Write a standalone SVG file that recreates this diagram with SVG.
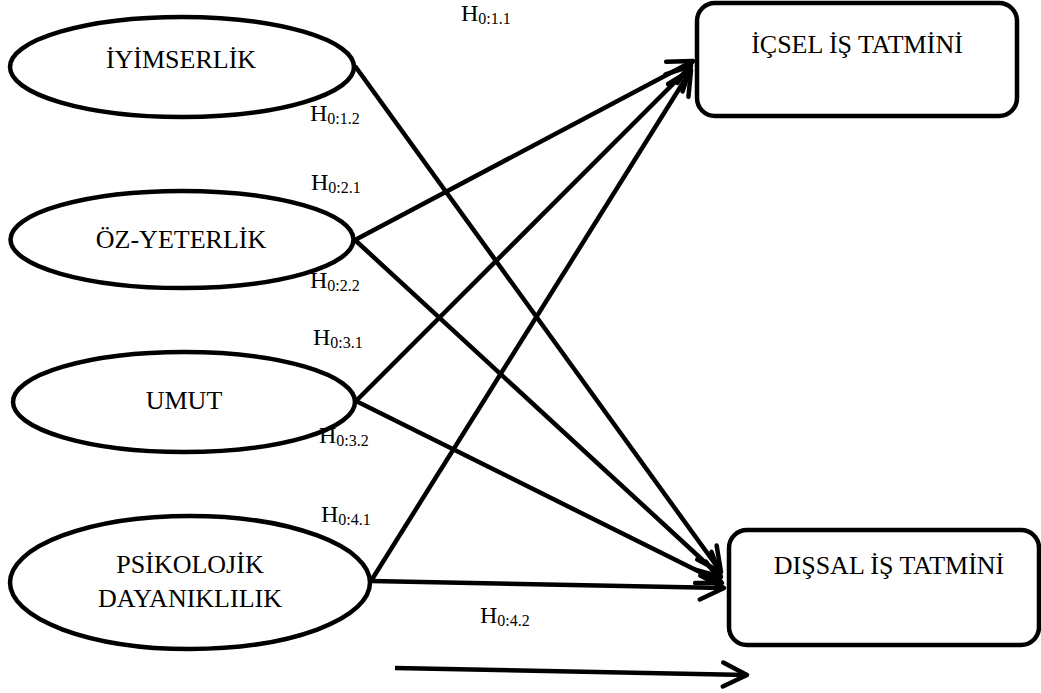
<svg xmlns="http://www.w3.org/2000/svg" width="1041" height="693" viewBox="0 0 1041 693">
<style>
.node{fill:#fff;stroke:#000;stroke-width:4.5}
.lbl{font-family:"Liberation Serif","Times New Roman",serif;font-size:26px;fill:#000;text-anchor:middle}
.h{font-family:"Liberation Serif","Times New Roman",serif;font-size:24px;fill:#000}
.h tspan{font-size:16px}
.con line{stroke:#000;stroke-width:4.5;fill:none}
</style>
<defs>
<marker id="arr" markerUnits="userSpaceOnUse" markerWidth="40" markerHeight="40" viewBox="-30 -20 40 40" refX="0" refY="0" orient="auto">
<path d="M-24,-12 L0,0 L-24,12" fill="none" stroke="#000" stroke-width="4.5" stroke-linejoin="round" stroke-linecap="round"/>
</marker>
</defs>
<rect width="1041" height="693" fill="#fff"/>
<g id="iyimserlik">
<ellipse class="node" cx="182" cy="67" rx="172" ry="50"/>
<text class="lbl" x="181" y="68">İYİMSERLİK</text>
</g>
<g id="ozyeterlik">
<ellipse class="node" cx="182" cy="239.5" rx="171.5" ry="48.5"/>
<text class="lbl" x="181" y="248">ÖZ-YETERLİK</text>
</g>
<g id="umut">
<ellipse class="node" cx="184" cy="402" rx="171" ry="50"/>
<text class="lbl" x="184" y="409">UMUT</text>
</g>
<g id="psikolojik">
<ellipse class="node" cx="190" cy="582.5" rx="180" ry="66.5"/>
<text class="lbl" x="190" y="573">PSİKOLOJİK</text>
<text class="lbl" x="190" y="607">DAYANIKLILIK</text>
</g>
<g id="icsel">
<rect class="node" x="697" y="3" width="320" height="113" rx="18" ry="18"/>
<text class="lbl" x="857" y="53">İÇSEL İŞ TATMİNİ</text>
</g>
<g id="dissal">
<rect class="node" x="729" y="530" width="310" height="115" rx="18" ry="18"/>
<text class="lbl" x="889" y="574">DIŞSAL İŞ TATMİNİ</text>
</g>
<g id="connectors" class="con">
<line x1="355" y1="66" x2="721" y2="572" marker-end="url(#arr)"/>
<line x1="355" y1="240" x2="693" y2="61" marker-end="url(#arr)"/>
<line x1="355" y1="240" x2="721" y2="577" marker-end="url(#arr)"/>
<line x1="356" y1="401" x2="691" y2="66" marker-end="url(#arr)"/>
<line x1="356" y1="401" x2="722" y2="583" marker-end="url(#arr)"/>
<line x1="371" y1="581" x2="691" y2="70" marker-end="url(#arr)"/>
<line x1="371" y1="581" x2="724" y2="588" marker-end="url(#arr)"/>
<line x1="395" y1="668" x2="747" y2="675" marker-end="url(#arr)"/>
</g>
<g id="labels">
<text class="h" x="461" y="21">H<tspan dy="3">0:1.1</tspan></text>
<text class="h" x="310" y="121">H<tspan dy="3">0:1.2</tspan></text>
<text class="h" x="311" y="190">H<tspan dy="3">0:2.1</tspan></text>
<text class="h" x="310" y="288">H<tspan dy="3">0:2.2</tspan></text>
<text class="h" x="313" y="345">H<tspan dy="3">0:3.1</tspan></text>
<text class="h" x="319" y="443">H<tspan dy="3">0:3.2</tspan></text>
<text class="h" x="321" y="522">H<tspan dy="3">0:4.1</tspan></text>
<text class="h" x="480" y="623">H<tspan dy="3">0:4.2</tspan></text>
</g>
</svg>
